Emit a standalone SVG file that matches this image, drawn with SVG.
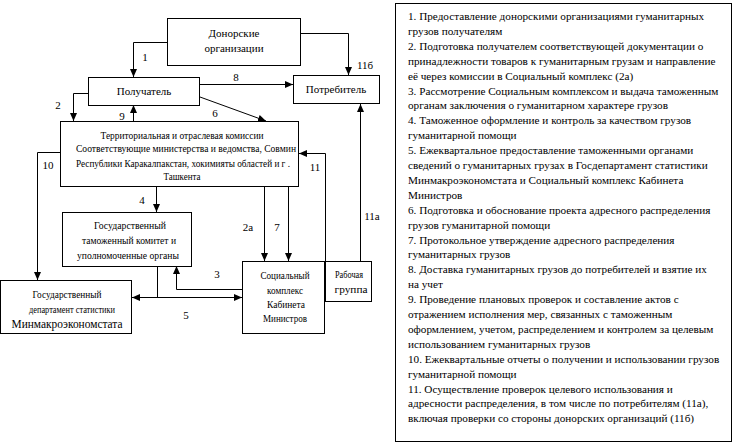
<svg xmlns="http://www.w3.org/2000/svg" width="734" height="446" viewBox="0 0 734 446" font-family="Liberation Serif, serif">
<style>
text{font-family:'Liberation Serif','DejaVu Serif',serif;fill:#000}
.n{font-size:11px;text-anchor:middle}
.s{font-size:10px;text-anchor:middle}
.l{font-size:12px;text-anchor:middle}
.p{font-size:11.2px}
rect{fill:#fff;stroke:#000;stroke-width:1}
.c path{fill:none;stroke:#000;stroke-width:1}
</style>
<defs>
<marker id="a" viewBox="0 0 8 8" refX="8" refY="4" markerWidth="8" markerHeight="8" markerUnits="userSpaceOnUse" orient="auto-start-reverse">
<path d="M0,0.5 L8,4 L0,7.5 Z" fill="#000"/>
</marker>
</defs>
<rect x="0" y="0" width="734" height="446" style="fill:#fff;stroke:none"/>

<g class="c" id="connectors">
<path d="M167,42.5 H133.5 V77" marker-end="url(#a)"/>
<path d="M300,33.5 H348.5 V75" marker-end="url(#a)"/>
<path d="M200,84.5 H293" marker-end="url(#a)"/>
<path d="M200,97 L266,121" marker-end="url(#a)"/>
<path d="M88,93.5 H73.5 V121" marker-end="url(#a)"/>
<path d="M133.5,121 V105" marker-end="url(#a)"/>
<path d="M60,152.5 H37.5 V280" marker-end="url(#a)"/>
<path d="M325.5,261 V153.5 H299" marker-end="url(#a)"/>
<path d="M360.5,261 V104" marker-end="url(#a)"/>
<path d="M156.5,187 V212" marker-end="url(#a)"/>
<path d="M264.5,187 V261" marker-end="url(#a)"/>
<path d="M288.5,187 V261" marker-end="url(#a)"/>
<path d="M242,289.5 H176.5 V266" marker-end="url(#a)"/>
<path d="M157.5,266 V297.5"/>
<path d="M132,297.5 H242" marker-start="url(#a)" marker-end="url(#a)"/>
</g>

<g id="labels">
<text class="n" x="145" y="61">1</text>
<text class="n" x="365" y="69">11б</text>
<text class="n" x="236" y="81">8</text>
<text class="n" x="58" y="109">2</text>
<text class="n" x="122" y="120">9</text>
<text class="n" x="215" y="117">6</text>
<text class="n" x="48" y="169">10</text>
<text class="n" x="315" y="171">11</text>
<text class="n" x="142" y="204">4</text>
<text class="n" x="248" y="231">2а</text>
<text class="n" x="277" y="231">7</text>
<text class="n" x="372" y="220">11а</text>
<text class="n" x="217" y="278">3</text>
<text class="n" x="186" y="319">5</text>
</g>

<g id="donors">
<rect x="167.5" y="18.5" width="133" height="47"/>
<text class="n" x="234" y="37">Донорские</text>
<text class="n" x="234" y="52">организации</text>
</g>
<g id="recipient">
<rect x="88.5" y="77.5" width="111" height="28"/>
<text class="n" x="144" y="95">Получатель</text>
</g>
<g id="consumer">
<rect x="293.5" y="75.5" width="86" height="28"/>
<text class="n" x="336" y="93">Потребитель</text>
</g>
<g id="territorial">
<rect x="60.5" y="121.5" width="238" height="65"/>
<text class="s" x="182" y="139" textLength="163" lengthAdjust="spacingAndGlyphs">Территориальная и отраслевая  комиссии</text>
<text class="s" x="186" y="152" textLength="220" lengthAdjust="spacingAndGlyphs">Соответствующие министерства и ведомства, Совмин</text>
<text class="s" x="183" y="167" textLength="214" lengthAdjust="spacingAndGlyphs">Республики Каракалпакстан, хокимияты областей и г .</text>
<text class="s" x="182" y="180" textLength="37" lengthAdjust="spacingAndGlyphs">Ташкента</text>
</g>
<g id="customs">
<rect x="62.5" y="212.5" width="129" height="54"/>
<text class="s" x="130" y="229" textLength="72" lengthAdjust="spacingAndGlyphs">Государственный</text>
<text class="s" x="129" y="244" textLength="94" lengthAdjust="spacingAndGlyphs">таможенный комитет и</text>
<text class="s" x="128" y="259" textLength="102" lengthAdjust="spacingAndGlyphs">уполномоченные органы</text>
</g>
<g id="statistics">
<rect x="0.5" y="280.5" width="131" height="53"/>
<text class="s" x="67" y="298" textLength="69" lengthAdjust="spacingAndGlyphs">Государственный</text>
<text class="s" x="72" y="313" textLength="86" lengthAdjust="spacingAndGlyphs">департамент статистики</text>
<text class="l" x="67" y="328" textLength="111" lengthAdjust="spacingAndGlyphs">Минмакроэкономстата</text>
</g>
<g id="social">
<rect x="242.5" y="261.5" width="82" height="72"/>
<text class="s" x="285" y="279" textLength="49" lengthAdjust="spacingAndGlyphs">Социальный</text>
<text class="s" x="285" y="294" textLength="36" lengthAdjust="spacingAndGlyphs">комплекс</text>
<text class="s" x="286" y="308" textLength="38" lengthAdjust="spacingAndGlyphs">Кабинета</text>
<text class="s" x="285" y="322" textLength="44" lengthAdjust="spacingAndGlyphs">Министров</text>
</g>
<g id="workgroup">
<rect x="325.5" y="261.5" width="46" height="40"/>
<text class="s" x="349" y="278" textLength="28" lengthAdjust="spacingAndGlyphs">Рабочая</text>
<text class="s" x="351" y="293" textLength="33" lengthAdjust="spacingAndGlyphs">группа</text>
</g>

<g id="legend">
<rect x="395.5" y="3.5" width="336" height="438"/>
<text class="p" x="408" y="20">1. Предоставление донорскими организациями гуманитарных</text>
<text class="p" x="408" y="34.9">грузов получателям</text>
<text class="p" x="408" y="49.8">2. Подготовка получателем соответствующей документации о</text>
<text class="p" x="408" y="64.7">принадлежности товаров к гуманитарным грузам и направление</text>
<text class="p" x="408" y="79.6">её через комиссии в Социальный комплекс (2а)</text>
<text class="p" x="408" y="94.5">3. Рассмотрение Социальным комплексом и выдача  таможенным</text>
<text class="p" x="408" y="109.4">органам заключения о гуманитарном характере грузов</text>
<text class="p" x="408" y="124.3">4. Таможенное оформление и контроль за качеством грузов</text>
<text class="p" x="408" y="139.2">гуманитарной помощи</text>
<text class="p" x="408" y="154.1">5. Ежеквартальное предоставление таможенными органами</text>
<text class="p" x="408" y="169">сведений о гуманитарных грузах в Госдепартамент статистики</text>
<text class="p" x="408" y="183.9">Минмакроэкономстата и Социальный комплекс Кабинета</text>
<text class="p" x="408" y="198.8">Министров</text>
<text class="p" x="408" y="213.7">6. Подготовка и обоснование проекта адресного распределения</text>
<text class="p" x="408" y="228.6">грузов гуманитарной помощи</text>
<text class="p" x="408" y="243.5">7. Протокольное утверждение адресного распределения</text>
<text class="p" x="408" y="258.4">гуманитарных грузов</text>
<text class="p" x="408" y="273.3">8. Доставка  гуманитарных грузов до потребителей и взятие их</text>
<text class="p" x="408" y="288.2">на учет</text>
<text class="p" x="408" y="303.1">9. Проведение плановых проверок и составление актов с</text>
<text class="p" x="408" y="318">отражением исполнения мер, связанных с таможенным</text>
<text class="p" x="408" y="332.9">оформлением, учетом, распределением и контролем за целевым</text>
<text class="p" x="408" y="347.8">использованием гуманитарных грузов</text>
<text class="p" x="408" y="362.7">10. Ежеквартальные отчеты о получении и использовании грузов</text>
<text class="p" x="408" y="377.6">гуманитарной помощи</text>
<text class="p" x="408" y="392.5">11. Осуществление проверок целевого использования и</text>
<text class="p" x="408" y="407.4">адресности распределения, в том числе по потребителям (11а),</text>
<text class="p" x="408" y="422.3">включая проверки со стороны донорских организаций (11б)</text>
</g>
</svg>
